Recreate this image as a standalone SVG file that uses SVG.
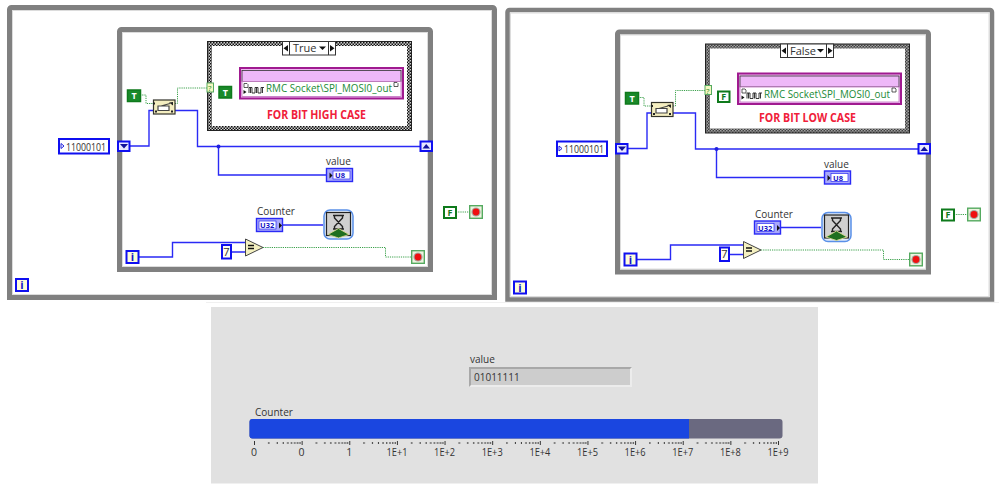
<svg xmlns="http://www.w3.org/2000/svg" xmlns:xlink="http://www.w3.org/1999/xlink" width="999" height="491" viewBox="0 0 999 491">
<style>
text{font-family:"Open Sans","Noto Sans","Liberation Sans",sans-serif;font-size:10px;fill:#333}
.frame{fill:none;stroke:#808080;stroke-width:5}
.frameLight{fill:none;stroke:#dcdcdc;stroke-width:1}
.blue{fill:none;stroke:#2a2af5;stroke-width:1.4}
.green{fill:none;stroke:#3aa04a;stroke-width:1;stroke-dasharray:1.2 1}
.num{fill:#fff;stroke:#0f0ff0;stroke-width:2}
.iterm{fill:#fdfdd8;stroke:#0f0ff0;stroke-width:2}
.iterm-t{font-size:11px;font-weight:700;fill:#1414c8;text-anchor:middle}
.btrue{fill:#1a8a2a;stroke:#0f7a1c;stroke-width:1.5}
.bfalse{fill:#fff;stroke:#0f7a1c;stroke-width:2}
.bt{font-size:9px;font-weight:700;fill:#fff;text-anchor:middle}
.bf{font-size:9px;font-weight:700;fill:#0f7a1c;text-anchor:middle}
.ind{fill:#a8a8fa;stroke:#2a2af5;stroke-width:1.4}
.indt{font-size:7.5px;font-weight:700;fill:#1414c8}
.casetxt{font-size:11.5px;font-weight:700;fill:#f0203a}
.rmc{font-size:11px;fill:#1a8a35}
.big{font-size:11px}
.scale{font-size:10.5px;text-anchor:middle;fill:#333}
</style>
<defs>
<pattern id="chk" width="3" height="3" patternUnits="userSpaceOnUse"><rect width="3" height="3" fill="#d0d0d0"/><rect width="1.5" height="1.5" fill="#111"/><rect x="1.5" y="1.5" width="1.5" height="1.5" fill="#111"/></pattern>
<pattern id="ticks" x="254" y="441" width="47.636" height="5" patternUnits="userSpaceOnUse"><path d="M.5 0V4M14.8 1V3M23.2 1V3M29.2 1V3M33.8 1V3M37.5 1V3M40.7 1V3M43.5 1V3M45.9 1V3" stroke="#333" stroke-width="1" fill="none"/></pattern>
<g id="stop"><rect x=".7" y=".7" width="12.6" height="12.6" fill="#eef3e0" stroke="#55aa60" stroke-width="1.4"/><circle cx="7" cy="7" r="4.6" fill="#a8a8a0"/><circle cx="7" cy="7" r="3.4" fill="#f01010"/></g>
<g id="sel"><rect x=".5" y=".5" width="21.500" height="14" fill="#f4eec0" stroke="#33332a" stroke-width="1.200"/><path d="M5 6.500H16V11H5ZM8 6.500L17 4" fill="#fff" stroke="#444" stroke-width="1.200"/><path d="M16 3L20 2.500V6ZM0 3h2v2H0ZM2 11h2v2H2ZM18 11h2v2h-2Z" fill="#222"/></g>
<g id="sub"><rect x="1" y="1" width="163" height="30.500" fill="#eeb8f0" stroke="#a01a90" stroke-width="2"/><rect x="3" y="3.500" width="159" height="11" fill="#eeb8f8" stroke="#333" stroke-width=".8"/><rect x="3" y="14.500" width="159" height="15" fill="#fff" stroke="#c070c0" stroke-width=".8"/><path d="M5 16.500h3l1 1v3H5ZM155 15.500h3l1 1v3h-4Z" fill="#fff" stroke="#333" stroke-width=".8"/><path d="M4.500 23v4l3-2Z" fill="#111"/><path d="M10 26V20.500H13V26H16V20.500H19V26H22V20.500H25M11.500 20.500V26M17.500 20.500V26M23.500 20.500V26" fill="none" stroke="#222" stroke-width=".9"/></g>
<g id="wait"><rect x="1" y="1" width="29" height="29" rx="6" fill="#dfeafa" stroke="#5a90e8" stroke-width="1.500"/><rect x="3.500" y="3.500" width="24" height="23" fill="#d0d0d0" stroke="#222" stroke-width="1.200"/><path d="M10 6.500H21M10 20H21M11.500 6.500V9L19.500 17.500V20M19.500 6.500V9L11.500 17.500V20" fill="none" stroke="#222" stroke-width="1.400"/><path d="M15.500 19.500L5 25.500L15.500 29L26 25.500Z" fill="#1f6f20" stroke="#d8d890" stroke-width=".9"/></g>
<path id="down" d="M-4 -2H4L0 2.500Z" fill="#10109a"/>
</defs>
<rect width="999" height="491" fill="#fff"/>
<rect x="206" y="302" width="793" height="1" fill="#f0f0f0"/>

<g id="panel-true">
<path class="frame" d="M9.500 297.500V9.500a2 2 0 0 1 2-2H492.500a2 2 0 0 1 2 2V297.500Z"/>
<rect class="frameLight" x="12.500" y="10.500" width="479" height="284"/>
<path class="frame" d="M119.500 269.500V31.500a2 2 0 0 1 2-2H428.500a2 2 0 0 1 2 2V269.500Z"/>
<rect class="frameLight" x="122.500" y="32.500" width="305" height="234"/>
<g id="connectors-true">
<path class="blue" d="M130 146H149V110.500H153M175 110.500H197.500V146.500H420M218.500 146.500V175H326M139 257H172.500V242.500H245M231.500 252H245M283 225H323"/>
<circle cx="218.500" cy="146.500" r="2" fill="#2020e0"/>
<path class="green" d="M140 95H146V103.500H153M175 103.500H177.500V88H207M232 92H239M263 247.500H385.500V257H411M456 212H469"/>
</g>
<g id="case-true"><rect x="207.500" y="41.500" width="204" height="89" fill="url(#chk)" stroke="#222" stroke-width="1"/><rect x="212" y="46" width="195" height="80" fill="#fff"/>
<rect x="282.500" y="41.500" width="53" height="13.500" fill="#fff" stroke="#333"/><path d="M289.500 41.500V55M328.500 41.500V55" stroke="#333"/><path d="M288 45V51.500L283.500 48.200ZM330 45V51.500L334.500 48.200Z" fill="#111"/><path d="M319 46.500H326L322.500 50Z" fill="#111"/><text class="big" x="293" y="52">True</text>
<rect x="207" y="83" width="6.500" height="9" fill="#f4f8c0" stroke="#55aa60"/><text x="208" y="91" style="font-size:8px;fill:#228833">?</text></g>
<g id="const-true-inner"><rect class="btrue" x="219" y="86.500" width="12.500" height="11.500"/><text class="bt" x="225.300" y="95.500">T</text></g>
<use id="signal-true" href="#sub" x="239" y="67"/>
<text class="rmc" x="266" y="92" textLength="126" lengthAdjust="spacingAndGlyphs">RMC Socket\SPI_MOSI0_out</text>
<text class="casetxt" x="267" y="119" textLength="99" lengthAdjust="spacingAndGlyphs">FOR BIT HIGH CASE</text>
<g id="const-true"><rect class="btrue" x="127.500" y="90" width="13" height="11.500"/><text class="bt" x="134" y="99">T</text></g>
<use id="select-true" href="#sel" x="153" y="99.500"/>
<g id="ctrl-true"><rect class="num" x="59" y="139" width="50" height="14.500"/><path d="M61 143.500l3 2.500l-3 2.500Z" fill="none" stroke="#2222dd"/><text class="big" x="66" y="150.500" textLength="40" lengthAdjust="spacingAndGlyphs">11000101</text></g>
<g id="sr-left-true"><rect class="iterm" x="118" y="141.500" width="11.500" height="9.500" style="fill:#e8e8ff"/><use href="#down" x="124" y="146"/></g>
<g id="sr-right-true"><rect class="iterm" x="420.500" y="141.500" width="11.500" height="9.500" style="fill:#e8e8ff"/><path d="M422.500 148.500H430L426.200 144Z" fill="#10109a"/></g>
<g id="value-true"><text x="326" y="165">value</text><rect class="ind" x="326.500" y="168.500" width="26" height="13"/><rect x="333" y="171" width="17" height="8" fill="#fff" stroke="#2a2af5" stroke-width=".7"/><path d="M329.500 172.500v6l3 -3Z" fill="#111"/><text class="indt" x="335" y="178">U8</text></g>
<g id="counter-true"><text x="257" y="215">Counter</text><rect class="ind" x="256.500" y="218.500" width="26" height="13"/><rect x="259" y="221" width="17" height="8" fill="#fff" stroke="#2a2af5" stroke-width=".7"/><path d="M279 222.500v6l3 -3Z" fill="#111"/><text class="indt" x="260" y="228">U32</text></g>
<use id="wait-true" href="#wait" x="323" y="209"/>
<g id="iter-true"><rect class="iterm" x="126.500" y="251" width="12" height="12"/><text class="iterm-t" x="132.500" y="261">i</text></g>
<g id="outer-i-true"><rect class="iterm" x="16" y="279" width="12" height="12"/><text class="iterm-t" x="22" y="289">i</text></g>
<g id="seven-true"><rect class="num" x="222" y="245" width="9" height="13.500" style="fill:#fdfdf0"/><text x="226.500" y="255.500" text-anchor="middle" style="font-size:11px">7</text></g>
<g id="eq-true"><path d="M245.500 239V256L263 247.500Z" fill="#f4f0c0" stroke="#444"/><path d="M248 245.500H254M248 248.500H254" stroke="#111" stroke-width="1.400"/></g>
<use id="stop-true" href="#stop" x="411" y="250"/>
<g id="f-true"><rect class="bfalse" x="444" y="207" width="12" height="11"/><text class="bf" x="450" y="215.500">F</text></g>
<use id="stop-outer-true" href="#stop" x="469" y="205"/>
</g>

<g id="panel-false" transform="translate(498 2.500)">
<path class="frame" style="stroke-width:4.500" d="M9.500 297V9.500a2 2 0 0 1 2-2H492a2 2 0 0 1 2 2V297Z"/>
<rect class="frameLight" x="12.500" y="10.500" width="478.500" height="283.500"/>
<path class="frame" d="M119.500 269.500V31.500a2 2 0 0 1 2-2H428.500a2 2 0 0 1 2 2V269.500Z"/>
<rect class="frameLight" x="122.500" y="32.500" width="305" height="234"/>
<g id="connectors-false">
<path class="blue" d="M130 146H149V110.500H153M175 110.500H197.500V146.500H420M218.500 146.500V175H326M139 257H172.500V242.500H245M231.500 252H245M283 225H323"/>
<circle cx="218.500" cy="146.500" r="2" fill="#2020e0"/>
<path class="green" d="M140 95H146V103.500H153M175 103.500H177.500V88H207M232 94.500H239M263 247.500H385.500V257H411M456 212H469"/>
</g>
<g id="case-false"><rect x="207.500" y="41.500" width="204" height="89" fill="url(#chk)" stroke="#222" stroke-width="1"/><rect x="212" y="46" width="195" height="80" fill="#fff"/>
<rect x="282.500" y="41.500" width="53" height="13.500" fill="#fff" stroke="#333"/><path d="M289.500 41.500V55M328.500 41.500V55" stroke="#333"/><path d="M288 45V51.500L283.500 48.200ZM330 45V51.500L334.500 48.200Z" fill="#111"/><path d="M319 46.500H326L322.500 50Z" fill="#111"/><text class="big" x="292" y="52">False</text>
<rect x="207" y="83" width="6.500" height="9" fill="#f4f8c0" stroke="#55aa60"/><text x="208" y="91" style="font-size:8px;fill:#228833">?</text></g>
<g id="const-false-inner"><rect class="bfalse" x="220" y="89" width="11.500" height="10.500"/><text class="bf" x="225.800" y="97.500">F</text></g>
<use id="signal-false" href="#sub" x="239" y="70"/>
<text class="rmc" x="266" y="95" textLength="126" lengthAdjust="spacingAndGlyphs">RMC Socket\SPI_MOSI0_out</text>
<text class="casetxt" x="261" y="119" textLength="97" lengthAdjust="spacingAndGlyphs">FOR BIT LOW CASE</text>
<g id="const-false"><rect class="btrue" x="127.500" y="90" width="13" height="11.500"/><text class="bt" x="134" y="99">T</text></g>
<use id="select-false" href="#sel" x="153" y="99.500"/>
<g id="ctrl-false"><rect class="num" x="59" y="139" width="50" height="14.500"/><path d="M61 143.500l3 2.500l-3 2.500Z" fill="none" stroke="#2222dd"/><text class="big" x="66" y="150.500" textLength="40" lengthAdjust="spacingAndGlyphs">11000101</text></g>
<g id="sr-left-false"><rect class="iterm" x="118" y="141.500" width="11.500" height="9.500" style="fill:#e8e8ff"/><use href="#down" x="124" y="146"/></g>
<g id="sr-right-false"><rect class="iterm" x="420.500" y="141.500" width="11.500" height="9.500" style="fill:#e8e8ff"/><path d="M422.500 148.500H430L426.200 144Z" fill="#10109a"/></g>
<g id="value-false"><text x="326" y="165">value</text><rect class="ind" x="326.500" y="168.500" width="26" height="13"/><rect x="333" y="171" width="17" height="8" fill="#fff" stroke="#2a2af5" stroke-width=".7"/><path d="M329.500 172.500v6l3 -3Z" fill="#111"/><text class="indt" x="335" y="178">U8</text></g>
<g id="counter-false"><text x="257" y="215">Counter</text><rect class="ind" x="256.500" y="218.500" width="26" height="13"/><rect x="259" y="221" width="17" height="8" fill="#fff" stroke="#2a2af5" stroke-width=".7"/><path d="M279 222.500v6l3 -3Z" fill="#111"/><text class="indt" x="260" y="228">U32</text></g>
<use id="wait-false" href="#wait" x="323" y="209"/>
<g id="iter-false"><rect class="iterm" x="126.500" y="251" width="12" height="12"/><text class="iterm-t" x="132.500" y="261">i</text></g>
<g id="outer-i-false"><rect class="iterm" x="16" y="279" width="12" height="12"/><text class="iterm-t" x="22" y="289">i</text></g>
<g id="seven-false"><rect class="num" x="222" y="245" width="9" height="13.500" style="fill:#fdfdf0"/><text x="226.500" y="255.500" text-anchor="middle" style="font-size:11px">7</text></g>
<g id="eq-false"><path d="M245.500 239V256L263 247.500Z" fill="#f4f0c0" stroke="#444"/><path d="M248 245.500H254M248 248.500H254" stroke="#111" stroke-width="1.400"/></g>
<use id="stop-false" href="#stop" x="411" y="250"/>
<g id="f-false"><rect class="bfalse" x="444" y="207" width="12" height="11"/><text class="bf" x="450" y="215.500">F</text></g>
<use id="stop-outer-false" href="#stop" x="469" y="205"/>
</g>

<g id="front-panel">
<rect x="211" y="307" width="607" height="176.500" fill="#e1e1e1"/>
<g id="value-indicator"><text x="470" y="363">value</text><rect x="469" y="367" width="163" height="20" fill="#ececec"/><path d="M469 367H632L630 369H471V385L469 387Z" fill="#a8a8a8"/><rect x="471" y="369" width="159" height="16" fill="#cdcdcd"/><text x="474" y="381">01011111</text></g>
<g id="counter-bar"><text x="255" y="416">Counter</text>
<rect x="249.500" y="419" width="533" height="19.500" rx="3" fill="#6a6980"/>
<path d="M689 419V438.500H252.500A3 3 0 0 1 249.500 435.500V422A3 3 0 0 1 252.500 419Z" fill="#1a46e0"/>
<rect x="254" y="441" width="525" height="5" fill="url(#ticks)"/>
<text class="scale" x="254" y="456">0</text><text class="scale" x="301.600" y="456">0</text><text class="scale" x="349.300" y="456">1</text><text class="scale" x="397" y="456" textLength="21" lengthAdjust="spacingAndGlyphs">1E+1</text><text class="scale" x="444.600" y="456" textLength="21" lengthAdjust="spacingAndGlyphs">1E+2</text><text class="scale" x="492.200" y="456" textLength="21" lengthAdjust="spacingAndGlyphs">1E+3</text><text class="scale" x="539.900" y="456" textLength="21" lengthAdjust="spacingAndGlyphs">1E+4</text><text class="scale" x="587.500" y="456" textLength="21" lengthAdjust="spacingAndGlyphs">1E+5</text><text class="scale" x="635.100" y="456" textLength="21" lengthAdjust="spacingAndGlyphs">1E+6</text><text class="scale" x="682.800" y="456" textLength="21" lengthAdjust="spacingAndGlyphs">1E+7</text><text class="scale" x="730.400" y="456" textLength="21" lengthAdjust="spacingAndGlyphs">1E+8</text><text class="scale" x="778" y="456" textLength="21" lengthAdjust="spacingAndGlyphs">1E+9</text>
</g></g>
</svg>
